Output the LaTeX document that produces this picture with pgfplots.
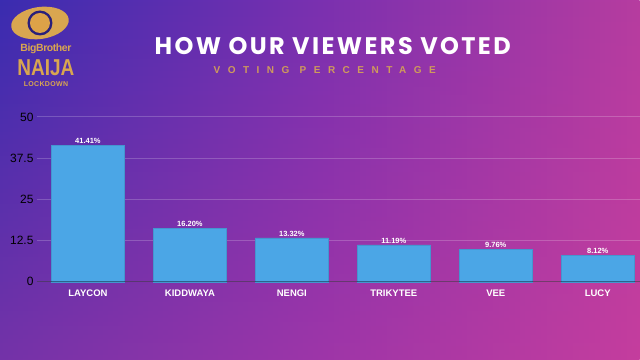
\documentclass[border=0pt]{standalone}
\usepackage{pgfplots}
\pgfplotsset{compat=1.18}
\usetikzlibrary{fadings}
\usepackage{fontspec}
\setmainfont{Liberation Sans}
\newfontfamily\titlefont{Poppins}
\definecolor{bgL}{HTML}{3A2CB0}
\definecolor{bgM}{HTML}{7A30B0}
\definecolor{bgR}{HTML}{B63CA0}
\definecolor{bgP}{HTML}{E0409A}
\definecolor{barc}{HTML}{4BA6E6}
\definecolor{gold}{HTML}{D9A650}
\definecolor{sub}{HTML}{CF9A5C}
\definecolor{tick}{HTML}{E6DDF5}
\begin{document}
\begin{tikzpicture}[x=1pt,y=1pt]
\shade[left color=bgL, right color=bgR, middle color=bgM] (0,0) rectangle (640,360);
\fill[bgP, opacity=0.35, path fading=north] (0,0) rectangle (640,360);
% logo
\fill[gold, rotate around={8:(40,337)}] (40,337) ellipse (29 and 16);
\fill[bgL!70!black] (40,337) circle (12.5);
\fill[gold!90!orange] (40,337) circle (10);
\node[gold, font=\bfseries\fontsize{10.5}{10}\selectfont\addfontfeatures{LetterSpace=-4}, inner sep=0] at (46,311) {BigBrother};
\node[gold, font=\bfseries\fontsize{20}{20}\selectfont, inner sep=0, xscale=0.95, yscale=1.15] at (46,292) {NAIJA};
\node[gold, font=\bfseries\fontsize{7}{7}\selectfont\addfontfeatures{LetterSpace=5}, inner sep=0] at (46,276) {LOCKDOWN};
% titles
\node[white, font=\titlefont\bfseries\fontsize{24}{24}\selectfont\addfontfeatures{LetterSpace=10}, inner sep=0] at (333,314) {HOW OUR VIEWERS VOTED};
\node[sub, font=\bfseries\fontsize{10}{10}\selectfont\addfontfeatures{LetterSpace=75}, inner sep=0] at (325,290) {VOTING PERCENTAGE};
\begin{axis}[
  at={(37pt,78pt)}, anchor=south west,
  scale only axis, width=603pt, height=165pt,
  ymin=0, ymax=50, xmin=-0.5, xmax=5.41,
  ytick={0,12.5,25,37.5,50},
  yticklabels={0,12.5,25,37.5,50},
  xtick={0,1,2,3,4,5},
  xticklabels={LAYCON,KIDDWAYA,NENGI,TRIKYTEE,VEE,LUCY},
  axis line style={draw=none},
  tick style={draw=none},
  ymajorgrids, grid style={draw=white, opacity=0.2, line width=1pt},
  yticklabel style={tick, font=\fontsize{12}{12}\selectfont},
  xticklabel style={white, font=\bfseries\fontsize{9.5}{10}\selectfont},
  /pgf/number format/assume math mode=true,
  ybar, bar width=73pt, bar shift=0pt,
  nodes near coords={\pgfmathprintnumber[fixed,fixed zerofill,precision=2]{\pgfplotspointmeta}\%},
  nodes near coords style={white, font=\bfseries\fontsize{7.5}{8}\selectfont, inner sep=1.5pt},
  clip=false,
]
\addplot[fill=barc, draw=barc!90!black] coordinates {(0,41.41) (1,16.20) (2,13.32) (3,11.19) (4,9.76) (5,8.12)};
\draw[black, opacity=0.4, line width=1pt] (axis cs:-0.5,0) -- (axis cs:5.41,0);
\end{axis}
\end{tikzpicture}
\end{document}
